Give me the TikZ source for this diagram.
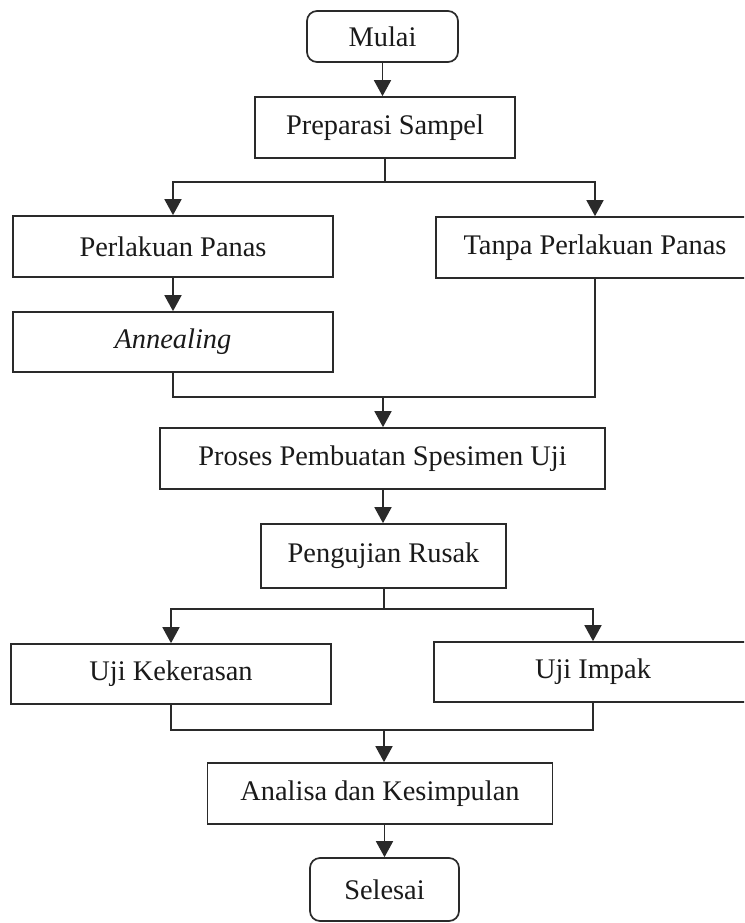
\documentclass[tikz,border=0pt]{standalone}
\usepackage{fontspec}
\setmainfont{Liberation Serif}
\usetikzlibrary{arrows.meta}
\definecolor{linec}{HTML}{2A2A2A}
\definecolor{textc}{HTML}{1A1A1A}
\tikzset{
  box/.style={draw=linec, line width=1.7pt, inner sep=0pt, align=center,
    text=textc, font=\fontsize{28.4}{34}\selectfont},
  term/.style={box, rounded corners=10pt},
  conn/.style={draw=linec, line width=1.7pt},
  arr/.style={conn, -{Triangle[width=17pt,length=16pt]}}
}
\begin{document}
\begin{tikzpicture}[x=1pt,y=-1pt]
\clip (0,0) rectangle (744,923);
\fill[white] (0,0) rectangle (744,923);
\node[term, minimum width=151pt, minimum height=51pt] (mulai) at (382.5,36.5) {Mulai};
\node[box, minimum width=260pt, minimum height=61pt] (prep) at (385,127.5) {Preparasi Sampel};
\node[box, minimum width=320pt, minimum height=61pt] (perl) at (173,246.5) {Perlakuan Panas};
\node[box, minimum width=318pt, minimum height=61pt] (tanpa) at (595,247.5) {Tanpa Perlakuan Panas};
\node[box, minimum width=320pt, minimum height=60pt] (ann) at (173,342) {\textit{Annealing}};
\node[box, minimum width=445pt, minimum height=61pt] (proses) at (382.5,458.5) {Proses Pembuatan Spesimen Uji};
\node[box, minimum width=245pt, minimum height=64pt] (peng) at (383.5,556) {Pengujian Rusak};
\node[box, minimum width=320pt, minimum height=60pt] (kek) at (171,674) {Uji Kekerasan};
\node[box, minimum width=318pt, minimum height=60pt] (impak) at (593,672) {Uji Impak};
\node[box, minimum width=345pt, minimum height=61pt] (anal) at (380,793.5) {Analisa dan Kesimpulan};
\node[term, minimum width=149pt, minimum height=63pt] (sel) at (384.5,889.5) {Selesai};

\coordinate (b1) at (385,182);
\coordinate (m1) at (383,397);
\coordinate (b2) at (384,609);
\coordinate (m2) at (384,730);

\draw[arr] (mulai.south) -- (mulai.south |- prep.north);
\draw[conn] (prep.south) -- (b1);
\draw[arr] (b1) -| (perl.north);
\draw[arr] (b1) -| (tanpa.north);
\draw[arr] (perl.south) -- (ann.north);
\draw[conn] (ann.south) |- (m1);
\draw[conn] (tanpa.south) |- (m1);
\draw[arr] (m1) -- (m1 |- proses.north);
\draw[arr] (proses.south -| m1) -- (m1 |- peng.north);
\draw[conn] (peng.south -| b2) -- (b2);
\draw[arr] (b2) -| (kek.north);
\draw[arr] (b2) -| (impak.north);
\draw[conn] (kek.south) |- (m2);
\draw[conn] (impak.south) |- (m2);
\draw[arr] (m2) -- (m2 |- anal.north);
\draw[arr] (anal.south -| sel.north) -- (sel.north);
\end{tikzpicture}
\end{document}
